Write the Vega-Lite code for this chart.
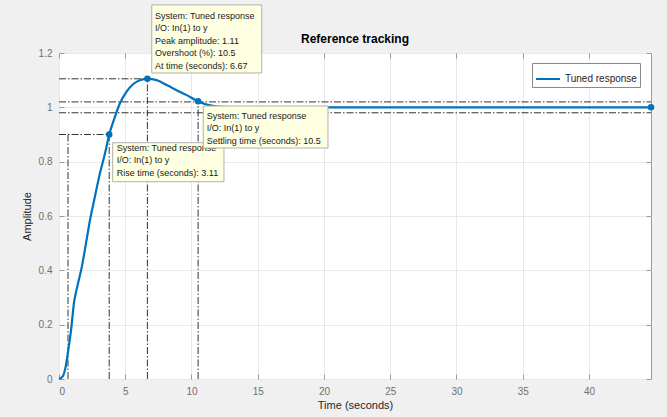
{
  "$schema": "https://vega.github.io/schema/vega-lite/v6.json",
  "width": 592,
  "height": 326,
  "autosize": {"type": "none"},
  "padding": {"left": 59, "top": 53, "right": 16, "bottom": 38},
  "background": "#f0f0f0",
  "config": {
    "view": {"fill": "white", "stroke": "#9a9a9a", "strokeWidth": 1},
    "font": "Liberation Sans",
    "text": {"lineBreak": "\n"}
  },
  "datasets": {
    "curve": [
      {"t": 0, "amp": 0, "series": "Tuned response"},
      {"t": 0.28, "amp": 0.01, "series": "Tuned response"},
      {"t": 0.48, "amp": 0.04, "series": "Tuned response"},
      {"t": 0.68, "amp": 0.1, "series": "Tuned response"},
      {"t": 0.91, "amp": 0.18, "series": "Tuned response"},
      {"t": 1.13, "amp": 0.28, "series": "Tuned response"},
      {"t": 1.38, "amp": 0.34, "series": "Tuned response"},
      {"t": 1.71, "amp": 0.41, "series": "Tuned response"},
      {"t": 2.04, "amp": 0.5, "series": "Tuned response"},
      {"t": 2.34, "amp": 0.585, "series": "Tuned response"},
      {"t": 2.66, "amp": 0.66, "series": "Tuned response"},
      {"t": 3.09, "amp": 0.757, "series": "Tuned response"},
      {"t": 3.47, "amp": 0.83, "series": "Tuned response"},
      {"t": 3.79, "amp": 0.9, "series": "Tuned response"},
      {"t": 4.23, "amp": 0.966, "series": "Tuned response"},
      {"t": 4.6, "amp": 1.015, "series": "Tuned response"},
      {"t": 5.1, "amp": 1.058, "series": "Tuned response"},
      {"t": 5.61, "amp": 1.086, "series": "Tuned response"},
      {"t": 6.11, "amp": 1.1, "series": "Tuned response"},
      {"t": 6.67, "amp": 1.105, "series": "Tuned response"},
      {"t": 7.37, "amp": 1.1, "series": "Tuned response"},
      {"t": 8.13, "amp": 1.082, "series": "Tuned response"},
      {"t": 8.88, "amp": 1.063, "series": "Tuned response"},
      {"t": 9.63, "amp": 1.045, "series": "Tuned response"},
      {"t": 10.5, "amp": 1.022, "series": "Tuned response"},
      {"t": 11.0, "amp": 1.012, "series": "Tuned response"},
      {"t": 11.5, "amp": 1.006, "series": "Tuned response"},
      {"t": 12.0, "amp": 1.003, "series": "Tuned response"},
      {"t": 13.0, "amp": 1.001, "series": "Tuned response"},
      {"t": 14.0, "amp": 1.0, "series": "Tuned response"},
      {"t": 20.0, "amp": 1.0, "series": "Tuned response"},
      {"t": 30.0, "amp": 1.0, "series": "Tuned response"},
      {"t": 44.68, "amp": 1.0, "series": "Tuned response"}
    ],
    "refs": [
      {"t": 0, "t2": 44.68, "a": 1.02, "a2": 1.02},
      {"t": 0, "t2": 44.68, "a": 0.98, "a2": 0.98},
      {"t": 0, "t2": 6.67, "a": 1.105, "a2": 1.105},
      {"t": 0, "t2": 3.79, "a": 0.9, "a2": 0.9},
      {"t": 0.68, "t2": 0.68, "a": 0, "a2": 0.9},
      {"t": 3.79, "t2": 3.79, "a": 0, "a2": 0.9},
      {"t": 6.67, "t2": 6.67, "a": 0, "a2": 1.105},
      {"t": 10.5, "t2": 10.5, "a": 0, "a2": 1.02}
    ],
    "dots": [
      {"t": 3.79, "amp": 0.9},
      {"t": 6.67, "amp": 1.105},
      {"t": 10.5, "amp": 1.022},
      {"t": 44.68, "amp": 1.0}
    ],
    "tips": [
      {"id": "rise", "x": 4.05, "x2": 12.45, "y": 0.8698, "y2": 0.7263, "tx": 4.36, "ty": 0.8393, "label": "System: Tuned response\nI/O: In(1) to y\nRise time (seconds): 3.11"},
      {"id": "settle", "x": 10.89, "x2": 20.3, "y": 1.0049, "y2": 0.8503, "tx": 11.15, "ty": 0.9571, "label": "System: Tuned response\nI/O: In(1) to y\nSettling time (seconds): 10.5"},
      {"id": "peak", "x": 7.0, "x2": 15.3, "y": 1.377, "y2": 1.1264, "tx": 7.25, "ty": 1.3251, "label": "System: Tuned response\nI/O: In(1) to y\nPeak amplitude: 1.11\nOvershoot (%): 10.5\nAt time (seconds): 6.67"}
    ],
    "heading": [
      {"title": "Reference tracking", "t": 22.34, "amp": 1.2}
    ]
  },
  "resolve": {"axis": {"x": "independent", "y": "independent"}},
  "layer": [
    {
      "layer": [
        {
          "data": {"name": "refs"},
          "mark": {"type": "rule", "color": "#333333", "strokeWidth": 1, "strokeDash": [7, 2, 1.5, 2]},
          "encoding": {
            "x": {"field": "t", "type": "quantitative"},
            "x2": {"field": "t2"},
            "y": {"field": "a", "type": "quantitative"},
            "y2": {"field": "a2"}
          }
        },
        {
          "data": {"name": "curve"},
          "mark": {"type": "line", "strokeWidth": 2.2, "interpolate": "monotone"},
          "encoding": {
            "x": {"field": "t", "type": "quantitative", "title": "Time (seconds)",
              "scale": {"domain": [0, 44.68], "nice": false, "zero": false},
              "axis": {"values": [0, 5, 10, 15, 20, 25, 30, 35, 40], "format": "d", "orient": "bottom", "domain": false, "tickSize": -5, "tickColor": "#9a9a9a", "labelColor": "#707070", "labelFontSize": 10, "labelPadding": 12, "labelFont": "Liberation Sans", "gridColor": "#e8e8e8", "titleFont": "Liberation Sans", "titleFontSize": 11, "titleFontWeight": "normal", "titleColor": "#262626", "titlePadding": 3}},
            "y": {"field": "amp", "type": "quantitative", "title": "Amplitude",
              "scale": {"domain": [0, 1.2], "nice": false},
              "axis": {"values": [0, 0.2, 0.4, 0.6, 0.8, 1, 1.2], "format": "~g", "orient": "left", "domain": false, "tickSize": -5, "tickColor": "#9a9a9a", "labelColor": "#707070", "labelFontSize": 10, "labelPadding": 12, "labelFont": "Liberation Sans", "gridColor": "#e8e8e8", "titleFont": "Liberation Sans", "titleFontSize": 11, "titleFontWeight": "normal", "titleColor": "#262626", "titlePadding": 6}},
            "color": {"field": "series", "type": "nominal",
              "scale": {"domain": ["Tuned response"], "range": ["#0072BD"]},
              "legend": {"title": null, "orient": "none", "legendX": 473, "legendY": 10, "strokeColor": "#8a8a8a", "fillColor": "white", "padding": 3, "symbolType": "stroke", "symbolSize": 576, "symbolStrokeWidth": 2, "labelFontSize": 10, "labelFont": "Liberation Sans", "labelColor": "#262626", "labelOffset": 4, "cornerRadius": 0}}
          }
        },
        {
          "data": {"name": "dots"},
          "mark": {"type": "point", "filled": true, "color": "#0072BD", "size": 42, "opacity": 1},
          "encoding": {
            "x": {"field": "t", "type": "quantitative"},
            "y": {"field": "amp", "type": "quantitative"}
          }
        },
        {
          "data": {"name": "tips"},
          "transform": [{"filter": "datum.id === 'rise'"}],
          "mark": {"type": "rect", "fill": "#ffffe1", "stroke": "#b0b0b0", "strokeWidth": 1},
          "encoding": {
            "x": {"field": "x", "type": "quantitative"},
            "x2": {"field": "x2"},
            "y": {"field": "y", "type": "quantitative"},
            "y2": {"field": "y2"}
          }
        },
        {
          "data": {"name": "tips"},
          "transform": [{"filter": "datum.id === 'rise'"}],
          "mark": {"type": "text", "align": "left", "baseline": "alphabetic", "fontSize": 9, "lineHeight": 12.4, "color": "#1a1a1a", "font": "Liberation Sans"},
          "encoding": {
            "x": {"field": "tx", "type": "quantitative"},
            "y": {"field": "ty", "type": "quantitative"},
            "text": {"field": "label"}
          }
        },
        {
          "data": {"name": "tips"},
          "transform": [{"filter": "datum.id !== 'rise'"}],
          "mark": {"type": "rect", "fill": "#ffffe1", "stroke": "#b0b0b0", "strokeWidth": 1},
          "encoding": {
            "x": {"field": "x", "type": "quantitative"},
            "x2": {"field": "x2"},
            "y": {"field": "y", "type": "quantitative"},
            "y2": {"field": "y2"}
          }
        },
        {
          "data": {"name": "tips"},
          "transform": [{"filter": "datum.id !== 'rise'"}],
          "mark": {"type": "text", "align": "left", "baseline": "alphabetic", "fontSize": 9, "lineHeight": 12.4, "color": "#1a1a1a", "font": "Liberation Sans"},
          "encoding": {
            "x": {"field": "tx", "type": "quantitative"},
            "y": {"field": "ty", "type": "quantitative"},
            "text": {"field": "label"}
          }
        },
        {
          "data": {"name": "heading"},
          "mark": {"type": "text", "align": "center", "baseline": "alphabetic", "dy": -10, "fontSize": 12, "fontWeight": "bold", "color": "#000000", "font": "Liberation Sans"},
          "encoding": {
            "x": {"field": "t", "type": "quantitative"},
            "y": {"field": "amp", "type": "quantitative"},
            "text": {"field": "title"}
          }
        }
      ]
    },
    {
      "data": {"name": "dots"},
      "mark": {"type": "point", "opacity": 0},
      "encoding": {
        "x": {"field": "t", "type": "quantitative",
          "axis": {"orient": "top", "values": [0, 5, 10, 15, 20, 25, 30, 35, 40], "labels": false, "title": null, "grid": false, "domain": false, "tickSize": -5, "tickColor": "#9a9a9a"}},
        "y": {"field": "amp", "type": "quantitative",
          "axis": {"orient": "right", "values": [0, 0.2, 0.4, 0.6, 0.8, 1, 1.2], "labels": false, "title": null, "grid": false, "domain": false, "tickSize": -5, "tickColor": "#9a9a9a"}}
      }
    }
  ]
}
